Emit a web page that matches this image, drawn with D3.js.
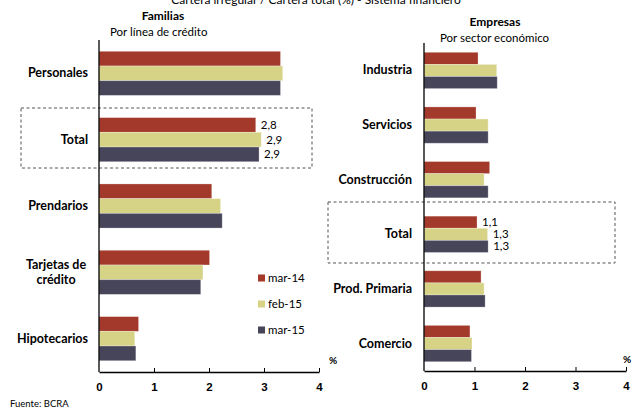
<!DOCTYPE html>
<meta charset="utf-8">
<style>
body { margin: 0; background: #fff; }
svg { font-family: Lato, "Open Sans", sans-serif; }
.cat { font-weight: bold; font-size: 12.5px; }
.tick text { font-weight: bold; font-size: 11.5px; }
</style>
<body>
<script src="https://cdn.jsdelivr.net/npm/d3@7"></script>
<script>
// data
var series = ["mar-14", "feb-15", "mar-15"];
var colors = ["#a3392a", "#d6d387", "#46455a"];

var famCats = ["Personales", "Total", "Prendarios", "Tarjetas de crédito", "Hipotecarios"];
var famMar14 = [3.30, 2.85, 2.05, 2.01, 0.72];
var famFeb15 = [3.34, 2.95, 2.21, 1.89, 0.65];
var famMar15 = [3.30, 2.91, 2.24, 1.85, 0.67];
var famTotalLabels = ["2,8", "2,9", "2,9"];

var empCats = ["Industria", "Servicios", "Construcción", "Total", "Prod. Primaria", "Comercio"];
var empMar14 = [1.07, 1.03, 1.30, 1.05, 1.13, 0.91];
var empFeb15 = [1.44, 1.27, 1.19, 1.26, 1.19, 0.95];
var empMar15 = [1.45, 1.27, 1.27, 1.27, 1.21, 0.94];
var empTotalLabels = ["1,1", "1,3", "1,3"];

var xTicks = [0, 1, 2, 3, 4];

var svg = d3.select("body").append("svg")
    .attr("width", 632)
    .attr("height", 410);

// titles
svg.append("text").attr("x", 316).attr("y", 4).attr("text-anchor", "middle")
    .style("font-size", "12px").text("Cartera irregular / Cartera total (%) - Sistema financiero");
svg.append("text").attr("x", 163).attr("y", 20).attr("text-anchor", "middle")
    .style("font-size", "12px").style("font-weight", "bold").text("Familias");
svg.append("text").attr("x", 110).attr("y", 36)
    .style("font-size", "11.5px").text("Por línea de crédito");
svg.append("text").attr("x", 495).attr("y", 26).attr("text-anchor", "middle")
    .style("font-size", "12px").style("font-weight", "bold").text("Empresas");
svg.append("text").attr("x", 440).attr("y", 42)
    .style("font-size", "11.5px").text("Por sector económico");

function panel(cats, vals, totalLabels, x0, x1, yTop, yBot, labelX, box, pctX) {
  var x = d3.scaleLinear().domain([0, 4]).range([x0, x1]);
  var y = d3.scaleBand().domain(cats).range([yTop, yBot])
      .paddingInner(0.335).paddingOuter(0.17);
  var ys = d3.scaleBand().domain(series).range([0, y.bandwidth()]);

  // dashed box around Total
  svg.append("rect")
      .attr("x", box[0]).attr("y", box[1]).attr("width", box[2]).attr("height", box[3])
      .attr("fill", "none").attr("stroke", "#555").attr("stroke-width", 1)
      .attr("stroke-dasharray", "3,2.5");

  var rows = cats.map(function(c, i) {
    return { cat: c, v: series.map(function(s, j) { return { s: s, j: j, v: vals[j][i] }; }) };
  });

  var g = svg.selectAll(null).data(rows).enter().append("g")
      .attr("transform", function(d) { return "translate(0," + y(d.cat) + ")"; });

  g.selectAll("rect").data(function(d) { return d.v; }).enter().append("rect")
      .attr("x", x(0))
      .attr("y", function(d) { return ys(d.s); })
      .attr("width", function(d) { return x(d.v) - x(0); })
      .attr("height", ys.bandwidth())
      .attr("fill", function(d) { return colors[d.j]; })
      .attr("stroke", "#fff").attr("stroke-opacity", 0.35).attr("stroke-width", 0.8);

  // category labels
  g.each(function(d) {
    var words = d.cat === "Tarjetas de crédito" ? ["Tarjetas de", "crédito"] : [d.cat];
    var t = d3.select(this).append("text").attr("class", "cat")
        .attr("text-anchor", words.length > 1 ? "middle" : "end")
        .attr("x", words.length > 1 ? labelX - 32 : labelX)
        .attr("y", y.bandwidth() / 2 + 4 - (words.length - 1) * 7.5);
    words.forEach(function(w, k) {
      t.append("tspan").attr("x", words.length > 1 ? labelX - 32 : labelX)
          .attr("dy", k ? 15 : 0).text(w);
    });
  });

  // value labels on Total
  var tot = rows.filter(function(d) { return d.cat === "Total"; })[0];
  svg.selectAll(null).data(tot.v).enter().append("text")
      .attr("x", function(d) { return x(d.v) + 5; })
      .attr("y", function(d) { return y("Total") + ys(d.s) + ys.bandwidth() / 2 + 4; })
      .style("font-size", "11.5px")
      .text(function(d, i) { return totalLabels[i]; });

  // axes
  svg.append("line").attr("x1", x0).attr("x2", x0).attr("y1", yTop).attr("y2", yBot)
      .attr("stroke", "#000").attr("stroke-width", 1.3);
  var ax = svg.append("g").attr("transform", "translate(0," + yBot + ")")
      .call(d3.axisBottom(x).tickValues(xTicks).tickFormat(d3.format("d"))
          .tickSizeInner(-4).tickSizeOuter(0).tickPadding(11));
  ax.select(".domain").attr("stroke-width", 1.3);
  ax.selectAll(".tick line").filter(function(d) { return d === 0; }).remove();

  svg.append("text").attr("x", pctX).attr("y", yBot - 8).attr("text-anchor", "middle")
      .style("font-size", "10px").style("font-weight", "bold").text("%");
}

panel(famCats, [famMar14, famFeb15, famMar15], famTotalLabels,
      99, 319, 40, 372, 88, [21, 108, 291, 60], 333);
panel(empCats, [empMar14, empFeb15, empMar15], empTotalLabels,
      424, 626, 43, 371, 412, [328, 202, 287, 61], 627);

// legend
var leg = svg.selectAll(null).data(series).enter().append("g")
    .attr("transform", function(d, i) { return "translate(258," + (278 + i * 26) + ")"; });
leg.append("rect").attr("x", 0).attr("y", -3.5).attr("width", 7).attr("height", 7)
    .attr("fill", function(d, i) { return colors[i]; });
leg.append("text").attr("x", 10).attr("y", 4).style("font-size", "11.5px")
    .text(function(d) { return d; });

svg.append("text").attr("x", 10).attr("y", 407).style("font-size", "9.5px").text("Fuente: BCRA");
</script>
</body>
